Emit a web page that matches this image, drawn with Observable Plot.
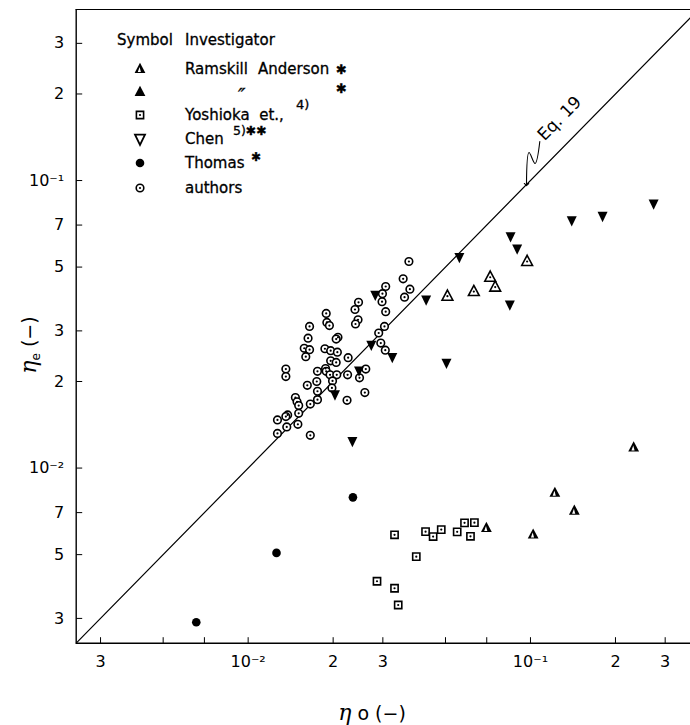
<!DOCTYPE html>
<html><head><meta charset="utf-8">
<script src="https://cdn.jsdelivr.net/npm/d3@7"></script>
<script src="https://cdn.jsdelivr.net/npm/@observablehq/plot@0.6"></script>
<style>body{margin:0;background:#fff} #chart{width:690px;height:725px}</style>
</head><body><div id="chart"></div>
<script>
// ---- data ----
const authorsX = [0.0371,0.0354,0.0374,0.0358,0.0307,0.0299,0.0298,0.0307,0.0304,0.0290,0.0295,0.0306,0.0246,0.0239,0.0245,0.0240,0.0189,0.0190,0.0194,0.0165,0.0163,0.0208,0.0205,0.0158,0.0165,0.0160,0.0187,0.0196,0.0207,0.0226,0.0196,0.0205,0.0188,0.0189,0.0176,0.0195,0.0206,0.0225,0.0261,0.0248,0.0175,0.0162,0.0199,0.0198,0.0176,0.0176,0.0259,0.0224,0.0166,0.0136,0.0136,0.0147,0.0149,0.0151,0.0151,0.0138,0.0136,0.0127,0.0150,0.0137,0.0127,0.0166];
const authorsY = [0.0523,0.0455,0.0419,0.0393,0.0428,0.0404,0.0379,0.0350,0.0311,0.0295,0.0272,0.0257,0.0377,0.0356,0.0328,0.0317,0.0345,0.0321,0.0313,0.0311,0.0283,0.0285,0.0281,0.0261,0.0258,0.0244,0.0260,0.0256,0.0253,0.0242,0.0236,0.0233,0.0222,0.0217,0.0217,0.0211,0.0211,0.0211,0.0221,0.0206,0.0200,0.0194,0.0201,0.0190,0.0185,0.0173,0.0183,0.0172,0.0167,0.0221,0.0208,0.0176,0.0170,0.0165,0.0155,0.0153,0.0151,0.0147,0.0142,0.0139,0.0132,0.0130];
const chenX = [0.273,0.180,0.140,0.0850,0.0897,0.0560,0.0282,0.0427,0.0845,0.0273,0.0324,0.0504,0.0203,0.0234,0.0247];
const chenY = [0.0830,0.0752,0.0726,0.0639,0.0579,0.0541,0.0400,0.0385,0.0370,0.0268,0.0243,0.0232,0.0180,0.0124,0.0218];
const ramskillAX = [0.232,0.122,0.143,0.0698,0.1022];
const ramskillAY = [0.0118,0.00820,0.00711,0.00619,0.00587];
const ramskillBX = [0.0508,0.0630,0.0720,0.0750,0.0973];
const ramskillBY = [0.0396,0.0411,0.0461,0.0426,0.0523];
const yoshiokaX = [0.0330,0.0425,0.0452,0.0483,0.0550,0.0584,0.0633,0.0613,0.0394,0.0286,0.0330,0.0340];
const yoshiokaY = [0.00586,0.00601,0.00578,0.00611,0.00600,0.00645,0.00646,0.00579,0.00492,0.00404,0.00382,0.00334];
const thomasX = [0.0235,0.0126,0.00655];
const thomasY = [0.00791,0.00507,0.00291];
const eqLine = [0.00246, 0.3688];
const arrowX = [0.1079,0.1038,0.0988,0.0968];
const arrowY = [0.1367,0.1146,0.1251,0.0968];
const eqLabelX = [0.1267], eqLabelY = [0.1643], eqLabel = ["Eq. 19"];
const tickValues = [0.003,0.005,0.007,0.01,0.02,0.03,0.05,0.07,0.1,0.2,0.3];
const tickLabels = ["3","5","7","10\u207B\u00B2","2","3","5","7","10\u207B\u00B9","2","3"];
const xDomain = [0.00246, 0.3688], yDomain = [0.00246, 0.3934];

const zip = (xs, ys) => xs.map((x, i) => ({x, y: ys[i]}));
const authors = zip(authorsX, authorsY), chen = zip(chenX, chenY),
  ramA = zip(ramskillAX, ramskillAY), ramB = zip(ramskillBX, ramskillBY),
  yosh = zip(yoshiokaX, yoshiokaY), thomas = zip(thomasX, thomasY),
  arrow = zip(arrowX, arrowY);

// ---- symbols ----
const triDown = {draw(c){c.moveTo(-5,-4.3);c.lineTo(5,-4.3);c.lineTo(0,6);c.closePath();}};
const triUp = {draw(c){c.moveTo(0,-6.2);c.lineTo(5.4,4);c.lineTo(-5.4,4);c.closePath();}};
const slit = {draw(c){c.moveTo(-0.4,-2);c.lineTo(0.9,3);c.lineTo(-2.2,3);c.closePath();}};
const sq = {draw(c){c.rect(-3.6,-3.6,7.2,7.2);}};
const tickUp = {draw(c){c.moveTo(0,0);c.lineTo(0,-6);}};
const tickRight = {draw(c){c.moveTo(0,0);c.lineTo(6,0);}};
const FONT = "DejaVu Sans";
const fmt = d => tickLabels[tickValues.findIndex(v => Math.abs(v - d) < 1e-9)];

const plot = Plot.plot({
  width: 690, height: 725,
  marginLeft: 75.7, marginRight: 0, marginTop: 9, marginBottom: 82.3,
  style: {fontFamily: FONT, fontSize: "16px", background: "white"},
  x: {type: "log", domain: xDomain},
  y: {type: "log", domain: yDomain},
  marks: [
    Plot.axisX(tickValues, {tickSize: 0, tickPadding: 12, tickFormat: fmt, fontSize: 16, label: null}),
    Plot.axisY(tickValues, {tickSize: 0, tickPadding: 12, tickFormat: fmt, fontSize: 16, label: null}),
    Plot.dot(tickValues, {x: d => d, y: () => yDomain[0], symbol: tickUp, stroke: "black", fill: "none", strokeWidth: 1}),
    Plot.dot(tickValues, {y: d => d, x: () => xDomain[0], symbol: tickRight, stroke: "black", fill: "none", strokeWidth: 1}),
    Plot.ruleX([xDomain[0]], {stroke: "black", strokeWidth: 1.4}),
    Plot.ruleY([yDomain[0]], {stroke: "black", strokeWidth: 1.4}),
    Plot.ruleY([yDomain[1]], {stroke: "black", strokeWidth: 1.2}),
    Plot.line(eqLine, {x: d => d, y: d => d, stroke: "black", strokeWidth: 1.2}),
    Plot.line(arrow, {x: "x", y: "y", curve: "catmull-rom", stroke: "black", strokeWidth: 1.1, markerEnd: "arrow"}),
    Plot.text(eqLabel, {x: eqLabelX, y: eqLabelY, text: d => d, rotate: -45.5, fontSize: 17, fontFamily: FONT, fill: "black"}),
    Plot.dot(authors, {x: "x", y: "y", r: 3.8, stroke: "black", fill: "white", strokeWidth: 1.6}),
    Plot.dot(authors, {x: "x", y: "y", r: 1.1, fill: "black", stroke: "none"}),
    Plot.dot(yosh, {x: "x", y: "y", symbol: sq, stroke: "black", fill: "white", strokeWidth: 1.6}),
    Plot.dot(yosh, {x: "x", y: "y", r: 1.1, fill: "black", stroke: "none"}),
    Plot.dot(chen, {x: "x", y: "y", symbol: triDown, fill: "black", stroke: "none"}),
    Plot.dot(ramA, {x: "x", y: "y", symbol: triUp, fill: "black", stroke: "none"}),
    Plot.dot(ramA, {x: "x", y: "y", symbol: slit, fill: "white", stroke: "none"}),
    Plot.dot(ramB, {x: "x", y: "y", symbol: triUp, fill: "white", stroke: "black", strokeWidth: 1.6}),
    Plot.dot(ramB, {x: "x", y: "y", r: 1.1, fill: "black", stroke: "none"}),
    Plot.dot(thomas, {x: "x", y: "y", r: 4.3, fill: "black", stroke: "none"})
  ]
});
document.getElementById("chart").appendChild(plot);

// ---- legend and axis titles ----
const svg = d3.select(plot);
const symPath = s => { const p = d3.path(); s.draw(p, 0); return p.toString(); };
const lg = svg.append("g").attr("font-family", FONT).attr("font-size", 15).attr("fill", "black")
  .attr("stroke", "black").attr("stroke-width", 0.3)
  .attr("text-anchor", "start").style("text-anchor", "start");
lg.append("text").attr("x", 117).attr("y", 45).text("Symbol");
lg.append("text").attr("x", 185).attr("y", 45).text("Investigator");
const rows = [69, 92, 115, 139, 163, 188];
const sx = 140;
let s;
s = lg.append("g").attr("transform", `translate(${sx},${rows[0]})`).attr("stroke", "none");
s.append("path").attr("d", symPath(triUp)); s.append("path").attr("d", symPath(slit)).attr("fill", "white");
s = lg.append("g").attr("transform", `translate(${sx},${rows[1]})`).attr("stroke", "none");
s.append("path").attr("d", symPath(triUp));
s = lg.append("g").attr("transform", `translate(${sx},${rows[2]})`).attr("stroke", "none");
s.append("path").attr("d", symPath(sq)).attr("fill", "white").attr("stroke", "black").attr("stroke-width", 1.6);
s.append("circle").attr("r", 1.1);
s = lg.append("g").attr("transform", `translate(${sx},${rows[3]})`).attr("stroke", "none");
s.append("path").attr("d", symPath(triDown)).attr("fill", "white").attr("stroke", "black").attr("stroke-width", 1.8);
s = lg.append("g").attr("transform", `translate(${sx},${rows[4]})`).attr("stroke", "none");
s.append("circle").attr("r", 4.3);
s = lg.append("g").attr("transform", `translate(${sx},${rows[5]})`).attr("stroke", "none");
s.append("circle").attr("r", 3.8).attr("fill", "white").attr("stroke", "black").attr("stroke-width", 1.6);
s.append("circle").attr("r", 1.1);
const tx = 185, b = 5;
lg.append("text").attr("x", tx).attr("y", rows[0] + b).text("Ramskill");
lg.append("text").attr("x", 258).attr("y", rows[0] + b).text("Anderson");
lg.append("text").attr("x", 336).attr("y", rows[0] + b).attr("font-size", 13).text("\u2731");
lg.append("text").attr("x", 238).attr("y", rows[1] + 10).attr("font-size", 20).attr("font-style", "italic").text("\u2033");
lg.append("text").attr("x", 336).attr("y", rows[1] + 1).attr("font-size", 13).text("\u2731");
lg.append("text").attr("x", tx).attr("y", rows[2] + b).text("Yoshioka  et.,");
lg.append("text").attr("x", 296).attr("y", rows[2] - 6).attr("font-size", 13).text("4)");
lg.append("text").attr("x", tx).attr("y", rows[3] + b).text("Chen");
lg.append("text").attr("x", 233).attr("y", rows[3] - 4).attr("font-size", 12.5).text("5)\u2731\u2731");
lg.append("text").attr("x", tx).attr("y", rows[4] + b).text("Thomas");
lg.append("text").attr("x", 251).attr("y", rows[4] - 2).attr("font-size", 12).text("\u2731");
lg.append("text").attr("x", tx).attr("y", rows[5] + b).text("authors");

const yt = svg.append("text").attr("font-family", FONT).attr("font-size", 19)
  .attr("transform", "translate(36,345) rotate(-90)").attr("text-anchor", "middle");
yt.append("tspan").attr("font-family", "DejaVu Serif").attr("font-style", "italic").attr("font-size", 22).text("\u03B7");
yt.append("tspan").attr("font-size", 12).attr("dy", 4).text("e");
yt.append("tspan").attr("dy", -4).text(" (\u2212)");
const xt = svg.append("text").attr("font-family", FONT).attr("font-size", 19)
  .attr("x", 372).attr("y", 720).attr("text-anchor", "middle");
xt.append("tspan").attr("font-family", "DejaVu Serif").attr("font-style", "italic").attr("font-size", 22).text("\u03B7");
xt.append("tspan").text(" o (\u2212)");
</script></body></html>
